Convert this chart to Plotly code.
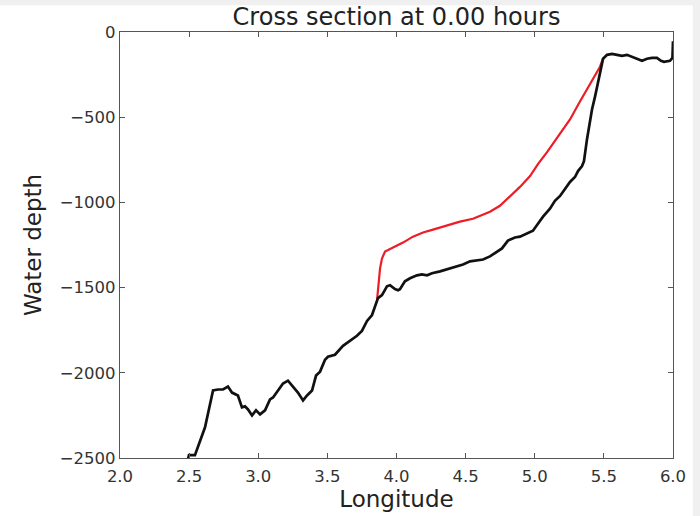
import plotly.graph_objects as go

# Black line: bathymetry (longitude, depth)
bathy_lon = [2.477, 2.499, 2.542, 2.615, 2.673, 2.709, 2.745, 2.781, 2.810, 2.832,
             2.853, 2.882, 2.904, 2.926, 2.955, 2.984, 3.013, 3.049, 3.085, 3.107,
             3.143, 3.179, 3.215, 3.244, 3.266, 3.287, 3.324, 3.353, 3.389, 3.418,
             3.447, 3.483, 3.504, 3.555, 3.613, 3.664, 3.714, 3.750, 3.787, 3.823,
             3.844, 3.866, 3.895, 3.931, 3.953, 3.989, 4.011, 4.025, 4.061, 4.098,
             4.148, 4.184, 4.221, 4.257, 4.315, 4.365, 4.423, 4.481, 4.532, 4.582,
             4.626, 4.676, 4.727, 4.763, 4.806, 4.857, 4.893, 4.944, 4.987, 5.023,
             5.060, 5.110, 5.146, 5.183, 5.219, 5.255, 5.291, 5.313, 5.342, 5.356,
             5.378, 5.400, 5.414, 5.436, 5.457, 5.479, 5.494, 5.523, 5.559, 5.595,
             5.631, 5.667, 5.703, 5.740, 5.776, 5.812, 5.848, 5.884, 5.913, 5.935,
             5.978, 5.996, 6.000]
bathy_depth = [-2553, -2483, -2483, -2320, -2104, -2098, -2098, -2081, -2116, -2127,
               -2133, -2203, -2197, -2215, -2250, -2220, -2244, -2220, -2156, -2145,
               -2104, -2063, -2046, -2075, -2098, -2116, -2162, -2133, -2104, -2016,
               -1993, -1923, -1906, -1894, -1842, -1813, -1783, -1754, -1696, -1661,
               -1609, -1562, -1544, -1492, -1486, -1509, -1515, -1509, -1463, -1445,
               -1428, -1422, -1428, -1416, -1405, -1393, -1381, -1364, -1346, -1340,
               -1335, -1317, -1288, -1270, -1224, -1206, -1201, -1183, -1166, -1125,
               -1084, -1037, -991, -962, -921, -880, -851, -816, -787, -758,
               -629, -513, -455, -379, -297, -204, -157, -134, -128, -134,
               -140, -134, -146, -157, -169, -157, -152, -152, -169, -175,
               -169, -152, -55]

# Red line: modified profile
red_lon = [3.859, 3.881, 3.895, 3.917, 3.975, 4.047, 4.119, 4.192, 4.264, 4.365,
           4.459, 4.553, 4.676, 4.748, 4.821, 4.893, 4.966, 5.023, 5.089, 5.146,
           5.204, 5.255, 5.327, 5.385, 5.436, 5.472, 5.494]
red_depth = [-1575, -1387, -1329, -1288, -1265, -1236, -1201, -1177, -1160, -1136,
             -1113, -1096, -1055, -1020, -967, -909, -845, -775, -705, -641,
             -571, -513, -408, -326, -262, -204, -157]

x_ticks = [2.0, 2.5, 3.0, 3.5, 4.0, 4.5, 5.0, 5.5, 6.0]
y_ticks = [0, -500, -1000, -1500, -2000, -2500]

fig = go.Figure()
fig.add_trace(go.Scatter(x=red_lon, y=red_depth, mode="lines",
                         line=dict(color="#ee1c25", width=2.2), showlegend=False))
fig.add_trace(go.Scatter(x=bathy_lon, y=bathy_depth, mode="lines",
                         line=dict(color="#111111", width=2.7), showlegend=False))

axis_common = dict(showline=True, linecolor="#555555", linewidth=1.2, mirror="ticks",
                   ticks="inside", ticklen=5, tickcolor="#555555", showgrid=False,
                   zeroline=False, tickfont=dict(family="DejaVu Sans", size=16.5, color="#333333"))

fig.update_xaxes(range=[2, 6], tickvals=x_ticks, tickformat=".1f", ticklabelstandoff=3,
                 title=dict(text="Longitude", font=dict(family="DejaVu Sans", size=23, color="#222222"),
                            standoff=2),
                 **axis_common)
fig.update_yaxes(range=[-2500, 0], tickvals=y_ticks,
                 title=dict(text="Water depth", font=dict(family="DejaVu Sans", size=23, color="#222222"),
                            standoff=11),
                 **axis_common)

fig.update_layout(
    width=700, height=516,
    margin=dict(l=120, r=27, t=32, b=55),
    paper_bgcolor="#f0f0f0",
    plot_bgcolor="white",
    title=dict(text="Cross section at 0.00 hours", x=(120 + 673) / 2 / 700, xanchor="center",
               y=1 - 17 / 516, yanchor="middle", yref="container",
               font=dict(family="DejaVu Sans", size=24, color="#222222")),
    shapes=[dict(type="rect", xref="paper", yref="paper", x0=-0.3, x1=1.036,
                 y0=-0.3, y1=1.063, fillcolor="white", line=dict(width=0), layer="below")],
)

fig.write_html("out.html")
